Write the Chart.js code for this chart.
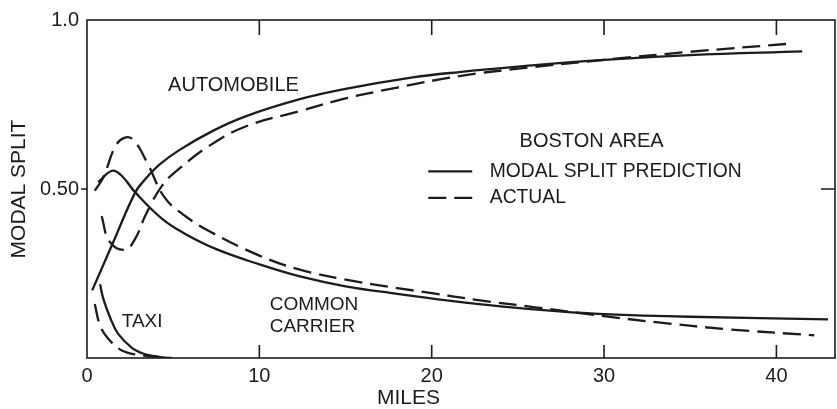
<!DOCTYPE html>
<html>
<head>
<meta charset="utf-8">
<script src="https://cdn.jsdelivr.net/npm/chart.js@4.4.0/dist/chart.umd.min.js"></script>
<style>
  html, body { margin: 0; background: #fff; }
  #wrap { width: 837px; height: 409px; }
</style>
</head>
<body>
<div id="wrap"><canvas id="chart" width="837" height="409"></canvas></div>
<script>
// Modal split vs trip length, Boston area

// automobile
const autoPredX = [0.3, 1.5, 2.8, 3.4, 4.2, 5.35, 7.3, 9.2, 12.3, 15, 18.9, 21.6, 25, 30, 35, 41.5];
const autoPredY = [0.20, 0.34, 0.49, 0.53, 0.572, 0.615, 0.672, 0.715, 0.765, 0.796, 0.83, 0.846, 0.862, 0.882, 0.896, 0.907];
const autoActX = [0.85, 1.3, 2.2, 2.8, 3.4, 4.36, 5.35, 7.1, 9.2, 12.3, 15, 18, 21.6, 25, 30, 35, 40.8];
const autoActY = [0.42, 0.345, 0.32, 0.353, 0.423, 0.51, 0.56, 0.628, 0.685, 0.73, 0.768, 0.80, 0.834, 0.856, 0.882, 0.906, 0.93];

// common carrier
const ccPredX = [0.65, 1.45, 2.0, 2.8, 4.4, 5.7, 7.5, 10, 12.3, 15, 18, 21, 24, 27.4, 30, 35, 43];
const ccPredY = [0.52, 0.554, 0.54, 0.49, 0.41, 0.367, 0.322, 0.277, 0.242, 0.212, 0.19, 0.17, 0.153, 0.138, 0.13, 0.122, 0.114];
const ccActX = [0.45, 0.95, 1.65, 2.2, 2.7, 3.5, 4.5, 5.7, 7.1, 10, 12.3, 15, 18, 20, 22.6, 26, 30, 33, 37.2, 42.2];
const ccActY = [0.495, 0.535, 0.627, 0.652, 0.645, 0.577, 0.475, 0.42, 0.375, 0.303, 0.262, 0.232, 0.207, 0.192, 0.172, 0.15, 0.124, 0.106, 0.085, 0.067];

// taxi
const taxiPredX = [0.76, 0.93, 1.34, 1.8, 2.6, 3.2, 3.8, 4.4, 4.9];
const taxiPredY = [0.218, 0.178, 0.12, 0.072, 0.03, 0.014, 0.006, 0.002, 0];
const taxiActX = [0.45, 0.76, 1.22, 2.0, 3.0, 4.1, 4.7];
const taxiActY = [0.16, 0.096, 0.058, 0.023, 0.009, 0.003, 0];

// axes
const xTickVals = [0, 10, 20, 30, 40];
const xTickLabels = ['0', '10', '20', '30', '40'];
const yTickVals = [0.5, 1.0];
const yTickLabels = ['0.50', '1.0'];
const xMarks = [10, 20, 30, 40];
const yMarks = [0.5];

const ink = '#1c1c1c';
const FONT = "'Liberation Sans', Arial, sans-serif";
const DASH = [18, 8];

// text on the plot, in data units
const notes = [
    { text: 'AUTOMOBILE', x: 8.5, y: 0.805, align: 'center', size: 20 },
    { text: 'TAXI', x: 3.2, y: 0.108, align: 'center', size: 19 },
    { text: 'COMMON', x: 10.6, y: 0.157, align: 'left', size: 19 },
    { text: 'CARRIER', x: 10.6, y: 0.093, align: 'left', size: 19 },
    { text: 'BOSTON AREA', x: 25.1, y: 0.641, align: 'left', size: 20 }
];
const legendRows = [
    { text: 'MODAL SPLIT PREDICTION', dash: [], y: 0.552 },
    { text: 'ACTUAL', dash: DASH, y: 0.474 }
];
// x axis title sits left of centre in the original
const xTitle = { text: 'MILES', x: 18.65 };

const pts = (xs, ys) => xs.map((x, i) => ({ x, y: ys[i] }));

function series(label, xs, ys, dashed) {
    return {
        label,
        data: pts(xs, ys),
        borderColor: ink,
        borderWidth: 2.3,
        borderDash: dashed ? DASH : [],
        borderCapStyle: 'butt',
        pointRadius: 0,
        fill: false,
        tension: 0.4
    };
}

// frame, inward ticks, labels and legend
const decor = {
    id: 'decor',
    afterDatasetsDraw(chart) {
        const { ctx, chartArea: a, scales: { x, y } } = chart;
        ctx.save();
        ctx.strokeStyle = ink;
        ctx.lineWidth = 1.6;
        ctx.setLineDash([]);
        ctx.strokeRect(a.left, a.top, a.right - a.left, a.bottom - a.top);

        ctx.beginPath();
        xMarks.forEach(v => {
            const px = x.getPixelForValue(v);
            ctx.moveTo(px, a.bottom); ctx.lineTo(px, a.bottom - 13);
            ctx.moveTo(px, a.top); ctx.lineTo(px, a.top + 15);
        });
        yMarks.forEach(v => {
            const py = y.getPixelForValue(v);
            ctx.moveTo(a.left - 6, py); ctx.lineTo(a.left, py);
            ctx.moveTo(a.right, py); ctx.lineTo(a.right - 14, py);
        });
        ctx.stroke();

        ctx.fillStyle = ink;
        ctx.textBaseline = 'middle';
        notes.forEach(n => {
            ctx.font = n.size + 'px ' + FONT;
            ctx.textAlign = n.align;
            ctx.fillText(n.text, x.getPixelForValue(n.x), y.getPixelForValue(n.y));
        });

        ctx.font = '21px ' + FONT;
        ctx.textAlign = 'center';
        ctx.fillText(xTitle.text, x.getPixelForValue(xTitle.x), 398);

        ctx.font = '19.3px ' + FONT;
        ctx.textAlign = 'left';
        ctx.lineWidth = 2.3;
        legendRows.forEach(r => {
            const py = y.getPixelForValue(r.y);
            ctx.setLineDash(r.dash);
            ctx.beginPath();
            ctx.moveTo(x.getPixelForValue(19.8), py);
            ctx.lineTo(x.getPixelForValue(22.35), py);
            ctx.stroke();
            ctx.fillText(r.text, x.getPixelForValue(23.37), py);
        });
        ctx.restore();
    }
};

new Chart(document.getElementById('chart'), {
    type: 'line',
    data: {
        datasets: [
            series('Automobile prediction', autoPredX, autoPredY, false),
            series('Automobile actual', autoActX, autoActY, true),
            series('Common carrier prediction', ccPredX, ccPredY, false),
            series('Common carrier actual', ccActX, ccActY, true),
            series('Taxi prediction', taxiPredX, taxiPredY, false),
            series('Taxi actual', taxiActX, taxiActY, true)
        ]
    },
    options: {
        responsive: false,
        animation: false,
        devicePixelRatio: 1,
        layout: { padding: { top: 15, right: 2, bottom: 0, left: 0 } },
        plugins: { legend: { display: false }, tooltip: { enabled: false } },
        scales: {
            x: {
                type: 'linear',
                min: 0,
                max: 43.4,
                grid: { display: false, drawTicks: false },
                border: { display: false },
                afterBuildTicks: s => { s.ticks = xTickVals.map(v => ({ value: v })); },
                afterFit: s => { s.height = 51; },
                ticks: {
                    color: ink,
                    padding: 6,
                    maxRotation: 0,
                    font: { family: FONT, size: 20 },
                    callback: v => xTickLabels[xTickVals.indexOf(v)]
                },
                title: { display: false }
            },
            y: {
                type: 'linear',
                min: 0,
                max: 1,
                grid: { display: false, drawTicks: false },
                border: { display: false },
                afterBuildTicks: s => { s.ticks = yTickVals.map(v => ({ value: v })); },
                afterFit: s => { s.width = 87; },
                ticks: {
                    color: ink,
                    padding: 8,
                    font: { family: FONT, size: 20 },
                    callback: v => yTickLabels[yTickVals.indexOf(v)]
                },
                title: {
                    display: true,
                    text: 'MODAL SPLIT',
                    color: ink,
                    font: { family: FONT, size: 21 },
                    padding: { top: 7, bottom: 0 }
                }
            }
        }
    },
    plugins: [decor]
});
</script>
</body>
</html>
